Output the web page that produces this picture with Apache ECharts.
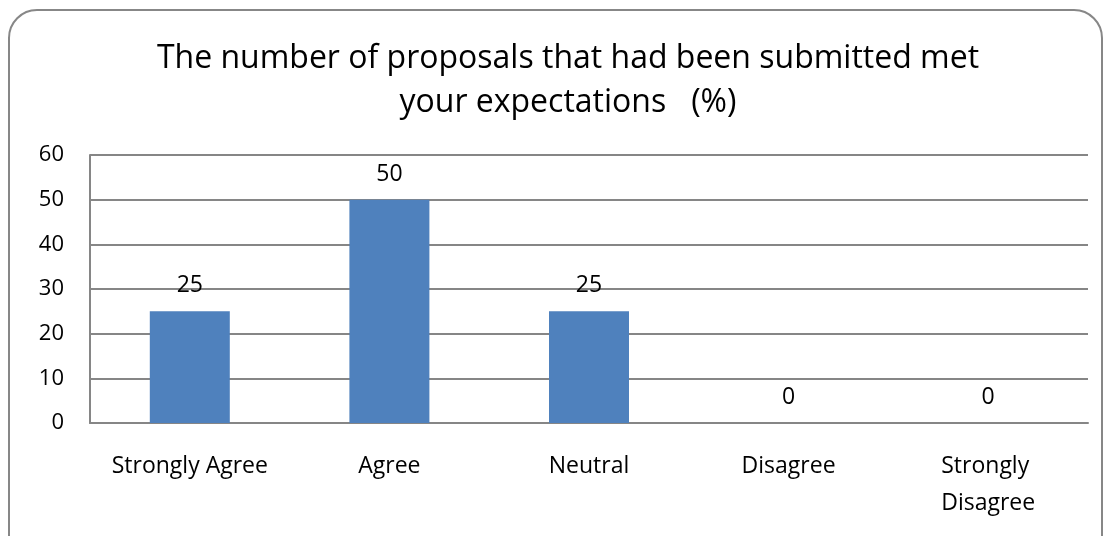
<!DOCTYPE html>
<html>
<head>
<meta charset="utf-8">
<script src="https://cdn.jsdelivr.net/npm/echarts@6/dist/echarts.min.js"></script>
<style>
html,body{margin:0;padding:0;background:#fff;}
#chart{width:1105px;height:536px;}
</style>
</head>
<body>
<div id="chart"></div>
<script>
const titleText = 'The number of proposals that had been submitted met\nyour expectations   (%)';
const categories = ['Strongly Agree', 'Agree', 'Neutral', 'Disagree', 'Strongly Disagree'];
const values = [25, 50, 25, 0, 0];
const yMin = 0, yMax = 60, yStep = 10;

const FONT = 'Open Sans';
const chart = echarts.init(document.getElementById('chart'), null, {renderer: 'canvas'});
chart.setOption({
  backgroundColor: '#fff',
  animation: false,
  graphic: [{
    type: 'rect',
    shape: {x: 9, y: 10, width: 1093, height: 560, r: 28},
    style: {fill: 'none', stroke: '#878787', lineWidth: 2},
    silent: true, z: -1
  }],
  title: {
    text: titleText,
    left: 563, top: 32,
    textAlign: 'center',
    textStyle: {fontFamily: FONT, fontSize: 32, fontWeight: 'normal', color: '#000', lineHeight: 44}
  },
  grid: {left: 90, right: 17, top: 155, bottom: 113, containLabel: false},
  xAxis: {
    type: 'category',
    data: categories,
    axisLine: {show: true, lineStyle: {color: '#868686', width: 2}},
    axisTick: {show: false},
    axisLabel: {
      fontFamily: FONT, fontSize: 23, color: '#000', margin: 25,
      width: 175, overflow: 'break', lineHeight: 37, interval: 0
    }
  },
  yAxis: {
    type: 'value',
    min: yMin, max: yMax, interval: yStep,
    axisLine: {show: true, lineStyle: {color: '#868686', width: 2}},
    axisTick: {show: false},
    splitLine: {show: true, lineStyle: {color: '#868686', width: 2}},
    axisLabel: {fontFamily: FONT, fontSize: 22, color: '#000', margin: 26}
  },
  series: [{
    type: 'bar',
    data: values,
    barWidth: 80,
    itemStyle: {color: '#4F81BD'},
    label: {show: true, position: 'top', distance: 14, fontFamily: FONT, fontSize: 23, color: '#000'}
  }]
});
</script>
</body>
</html>
